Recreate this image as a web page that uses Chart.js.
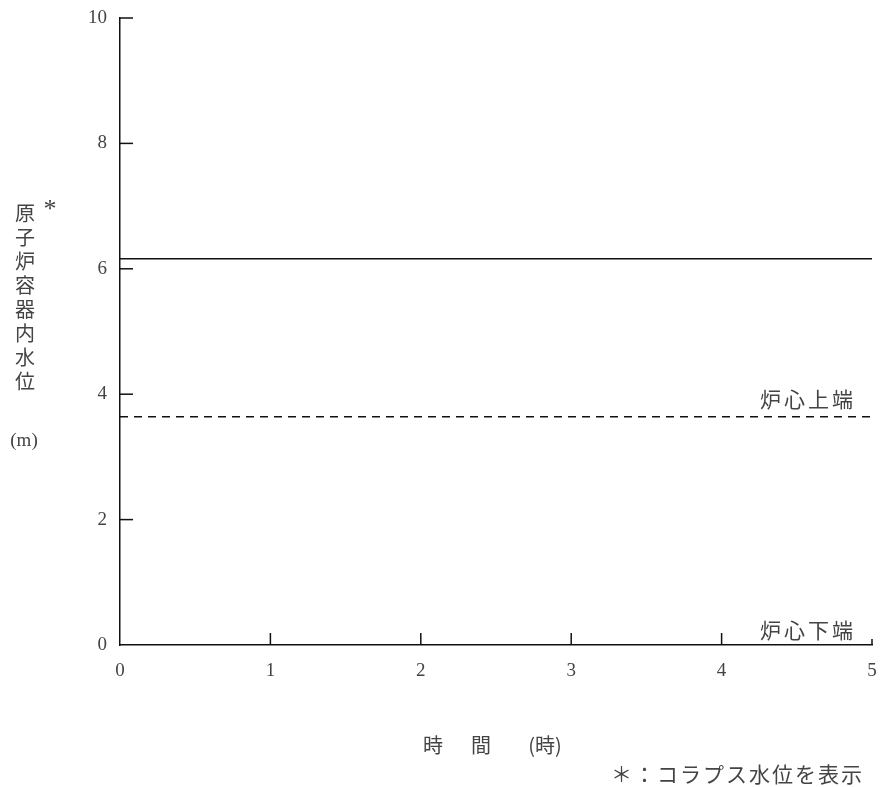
<!DOCTYPE html>
<html>
<head>
<meta charset="utf-8">
<script src="https://cdn.jsdelivr.net/npm/chart.js@4"></script>
<style>
  html, body { margin: 0; padding: 0; background: #fff; }
  #wrap { width: 880px; height: 787px; }
</style>
</head>
<body>
<div id="wrap"><canvas id="c"></canvas></div>
<script>
// time axis (hours) and water levels (m)
const timeHours = [0, 5];
const waterLevel = [6.16, 6.16];
const coreTop = [3.64, 3.64];
const xTicks = [0, 1, 2, 3, 4, 5];
const yTicks = [0, 2, 4, 6, 8, 10];

const yTitleChars = ['原', '子', '炉', '容', '器', '内', '水', '位'];
const jpFont = '"Noto Sans CJK JP", sans-serif';
const numFont = '"Liberation Serif", "DejaVu Serif", serif';
const textColor = '#444';

function toPoints(xs, ys) {
    return xs.map((x, i) => ({ x: x, y: ys[i] }));
}

//Draws inward tick marks, the vertical axis title and the notes
const annotations = {
    id: 'annotations',
    afterDraw(chart) {
        const ctx = chart.ctx;
        const xs = chart.scales.x;
        const ys = chart.scales.y;
        ctx.save();
        ctx.strokeStyle = '#111';
        ctx.lineWidth = 1.5;
        // ticks pointing into the plot
        yTicks.forEach((v) => {
            if (v === 0) return;
            let py = ys.getPixelForValue(v);
            ctx.beginPath();
            ctx.moveTo(xs.left, py);
            ctx.lineTo(xs.left + 13, py);
            ctx.stroke();
        });
        xTicks.forEach((v) => {
            if (v === 0) return;
            let px = xs.getPixelForValue(v);
            ctx.beginPath();
            ctx.moveTo(px, ys.bottom);
            ctx.lineTo(px, ys.bottom - (v === 5 ? 6 : 12));
            ctx.stroke();
        });

        ctx.fillStyle = textColor;
        ctx.textAlign = 'center';
        ctx.textBaseline = 'middle';
        ctx.font = '20px ' + jpFont;
        yTitleChars.forEach((ch, i) => {
            ctx.fillText(ch, 25, 213 + i * 24);
        });
        ctx.font = '26px ' + numFont;
        ctx.fillText('*', 50, 210);
        ctx.font = '19px ' + numFont;
        ctx.fillText('(m)', 24, 441);

        // x axis title, spaced out like the original
        ctx.font = '20px ' + jpFont;
        ctx.fillText('時', 433, 745);
        ctx.fillText('間', 481, 745);
        ctx.fillText('(時)', 545, 745);

        // core top / bottom labels
        ctx.font = '21px ' + jpFont;
        ctx.letterSpacing = '3px';
        ctx.textAlign = 'left';
        ctx.fillText('炉心上端', 760, 399);
        ctx.fillText('炉心下端', 760, 630);

        // footnote
        ctx.letterSpacing = '2px';
        ctx.textAlign = 'right';
        ctx.fillText('＊：コラプス水位を表示', 864, 774);
        ctx.restore();
    }
};

new Chart(document.getElementById('c'), {
    type: 'line',
    data: {
        datasets: [
            {
                data: toPoints(timeHours, waterLevel),
                borderColor: '#111',
                borderWidth: 1.5,
                pointRadius: 0
            },
            {
                data: toPoints(timeHours, coreTop),
                borderColor: '#111',
                borderWidth: 1.3,
                borderDash: [8, 6],
                pointRadius: 0
            }
        ]
    },
    options: {
        responsive: true,
        maintainAspectRatio: false,
        animation: false,
        layout: { padding: { top: 18, right: 8, left: 0, bottom: 0 } },
        plugins: {
            legend: { display: false },
            tooltip: { enabled: false }
        },
        scales: {
            x: {
                type: 'linear',
                min: 0,
                max: 5,
                afterFit: (s) => { s.height = 142; s.paddingLeft = 0; s.paddingRight = 0; },
                afterBuildTicks: (s) => { s.ticks = xTicks.map(v => ({ value: v })); },
                grid: { display: false, drawTicks: false },
                border: { display: true, color: '#111', width: 1.5 },
                ticks: {
                    padding: 15,
                    color: textColor,
                    font: { family: numFont, size: 19 }
                }
            },
            y: {
                min: 0,
                max: 10,
                afterFit: (s) => { s.width = 120; s.paddingTop = 0; s.paddingBottom = 0; },
                afterBuildTicks: (s) => { s.ticks = yTicks.map(v => ({ value: v })); },
                grid: { display: false, drawTicks: false },
                border: { display: true, color: '#111', width: 1.5 },
                ticks: {
                    padding: 13,
                    color: textColor,
                    font: { family: numFont, size: 19 }
                }
            }
        }
    },
    plugins: [annotations]
});
</script>
</body>
</html>
